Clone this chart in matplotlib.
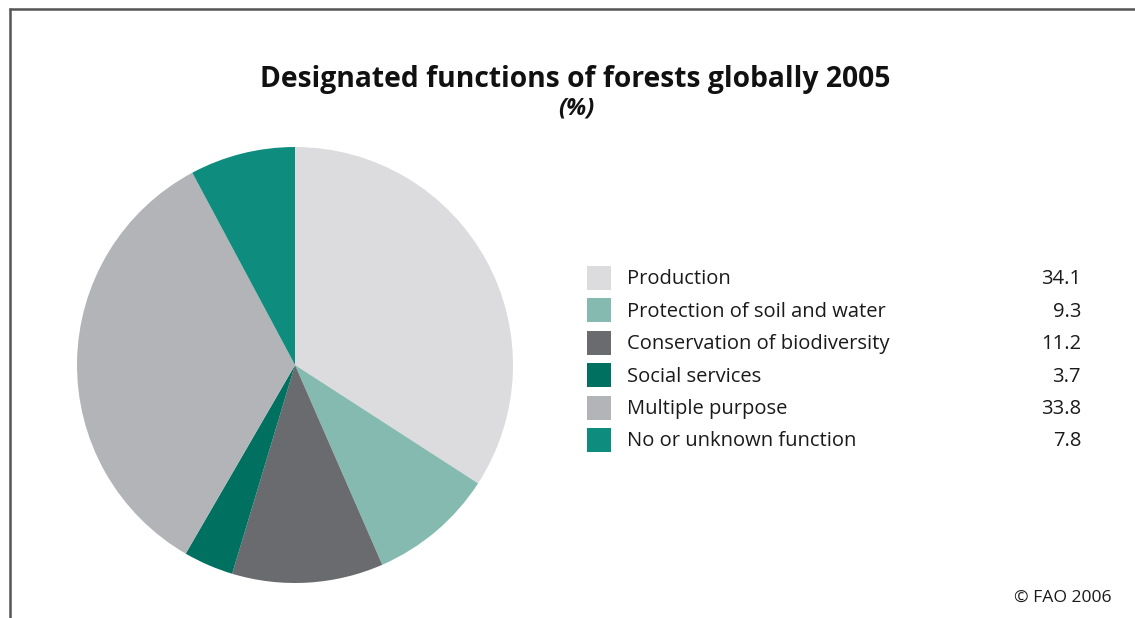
import matplotlib.pyplot as plt
from matplotlib.patches import Rectangle

categories = ['Production', 'Protection of soil and water', 'Conservation of biodiversity',
              'Social services', 'Multiple purpose', 'No or unknown function']
values = [34.1, 9.3, 11.2, 3.7, 33.8, 7.8]
colors = ['#dcdcde', '#85bab0', '#6a6b6e', '#007060', '#b3b4b8', '#0e8c7e']

W, H = 1135, 618
fig = plt.figure(figsize=(W / 100, H / 100), dpi=100)
fig.patch.set_facecolor('white')

# pie: centre (295, 365) px, radius 218 px
cx, cy, r = 295, 365, 218
pie_ax = fig.add_axes([(cx - r) / W, (H - cy - r) / H, 2 * r / W, 2 * r / H])
pie_ax.pie(values, colors=colors, startangle=90, counterclock=False,
           wedgeprops={'linewidth': 0})
pie_ax.set_xlim(-1, 1)
pie_ax.set_ylim(-1, 1)
pie_ax.set_aspect('equal')

# overlay in pixel coords for text, legend and frame
ax = fig.add_axes([0, 0, 1, 1], facecolor='none')
ax.set_xlim(0, W)
ax.set_ylim(H, 0)
ax.axis('off')

ax.plot([9, W], [8.5, 8.5], color='#555555', linewidth=1.8, solid_capstyle='butt')
ax.plot([9.5, 9.5], [8, H], color='#555555', linewidth=1.8, solid_capstyle='butt')

ax.text(575, 80, 'Designated functions of forests globally 2005', ha='center', va='center',
        fontsize=20.3, fontweight='bold', family='Open Sans', color='#111111')
ax.text(576, 109, '(%)', ha='center', va='center', fontsize=17, fontweight='bold',
        fontstyle='italic', family='Open Sans', color='#111111')

y0, dy = 278, 32.4
for i, (cat, val, col) in enumerate(zip(categories, values, colors)):
    y = y0 + i * dy
    ax.add_patch(Rectangle((587, y - 12), 24, 24, facecolor=col, edgecolor='none'))
    ax.text(627, y + 1.5, cat, ha='left', va='center', fontsize=14.5, family='Open Sans',
            color='#1a1a1a')
    ax.text(1081, y + 1.5, f'{val:.1f}', ha='right', va='center', fontsize=14.5,
            family='Open Sans', color='#1a1a1a')

ax.text(1112, 598, '© FAO 2006', ha='right', va='center', fontsize=12.6,
        family='Open Sans', color='#1a1a1a')

fig.savefig('out.png', dpi=100)
